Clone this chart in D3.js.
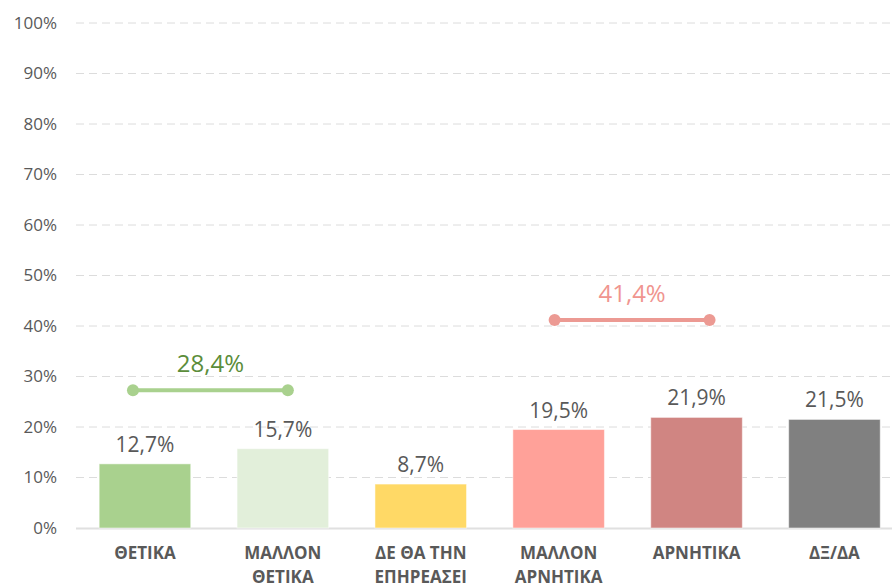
<!DOCTYPE html>
<html><head><meta charset="utf-8">
<script src="https://cdn.jsdelivr.net/npm/d3@7"></script>
<style>body{margin:0;background:#fff;} text{font-family:"Open Sans","Noto Sans",sans-serif;}</style>
</head><body>
<svg id="c" width="892" height="587"></svg>
<script>
const categories = [["ΘΕΤΙΚΑ"],["ΜΑΛΛΟΝ","ΘΕΤΙΚΑ"],["ΔΕ ΘΑ ΤΗΝ","ΕΠΗΡΕΑΣΕΙ"],["ΜΑΛΛΟΝ","ΑΡΝΗΤΙΚΑ"],["ΑΡΝΗΤΙΚΑ"],["ΔΞ/ΔΑ"]];
const values = [12.7, 15.7, 8.7, 19.5, 21.9, 21.5];
const barColors = ["#a9d18e","#e2efda","#ffd966","#ffa199","#d08582","#808080"];
const yTicks = [0,10,20,30,40,50,60,70,80,90,100];
const groupLabels = ["28,4%","41,4%"];
const groupLevels = [27.3, 41.2];
const groupFrom = [0, 3];
const groupTo = [1, 4];
const groupColors = ["#a9d18e","#ec9a93"];
const groupTextColors = ["#5b8d3a","#f0958f"];

const svg = d3.select("#c");
const y = d3.scaleLinear().domain([0,100]).range([528,23]);
const x = d3.scaleBand().domain(d3.range(values.length)).range([76,903.4]).paddingInner(0.336).paddingOuter(0.168);
const fmt = v => v.toFixed(1).replace(".", ",") + "%";

// grid
svg.append("g").selectAll("line").data(yTicks.filter(t=>t>0)).join("line")
  .attr("x1",76).attr("x2",892).attr("y1",d=>y(d)).attr("y2",d=>y(d))
  .attr("stroke","#dcdcdc").attr("stroke-width",1).attr("stroke-dasharray","8,5");
svg.append("line").attr("x1",76).attr("x2",892).attr("y1",y(0)+0.5).attr("y2",y(0)+0.5)
  .attr("stroke","#e0e0e0").attr("stroke-width",2);

// y axis
const ya = svg.append("g").attr("transform","translate(57,0)")
  .call(d3.axisLeft(y).tickValues(yTicks).tickSize(0).tickPadding(0).tickFormat(d=>d+"%"));
ya.select(".domain").remove();
ya.selectAll("text").attr("fill","#595959").style("font-size","17px").style("font-family","'Open Sans',sans-serif");

// bars
svg.append("g").selectAll("rect").data(values).join("rect")
  .attr("x",(d,i)=>x(i)).attr("width",x.bandwidth())
  .attr("y",d=>y(d)).attr("height",d=>y(0)-y(d))
  .attr("fill",(d,i)=>barColors[i])
  .attr("stroke","rgba(255,255,255,0.5)").attr("stroke-width",1);

// value labels
svg.append("g").selectAll("text").data(values).join("text")
  .attr("x",(d,i)=>x(i)+x.bandwidth()/2).attr("y",d=>y(d)-12)
  .attr("text-anchor","middle").attr("fill","#595959").style("font-size","21px")
  .text(fmt);

// category labels
const cg = svg.append("g").selectAll("text").data(categories).join("text")
  .attr("text-anchor","middle").attr("fill","#595959").style("font-size","17px").style("font-weight","bold");
cg.each(function(lines,i){
  d3.select(this).selectAll("tspan").data(lines).join("tspan")
    .attr("x",x(i)+x.bandwidth()/2).attr("y",(l,j)=>559+j*24).text(l=>l);
});

// group brackets
const offL = [-12, -4], offR = [5, 13];
groupLabels.forEach((lab,k)=>{
  const x1 = x(groupFrom[k])+x.bandwidth()/2+offL[k];
  const x2 = x(groupTo[k])+x.bandwidth()/2+offR[k];
  const yy = y(groupLevels[k]);
  const g = svg.append("g");
  g.append("line").attr("x1",x1).attr("x2",x2).attr("y1",yy).attr("y2",yy)
    .attr("stroke",groupColors[k]).attr("stroke-width",4);
  g.selectAll("circle").data([x1,x2]).join("circle").attr("cx",d=>d).attr("cy",yy).attr("r",6).attr("fill",groupColors[k]);
  g.append("text").attr("x",(x1+x2)/2).attr("y",yy-18).attr("text-anchor","middle")
    .attr("fill",groupTextColors[k]).style("font-size","24px").text(lab);
});
</script>
</body></html>
